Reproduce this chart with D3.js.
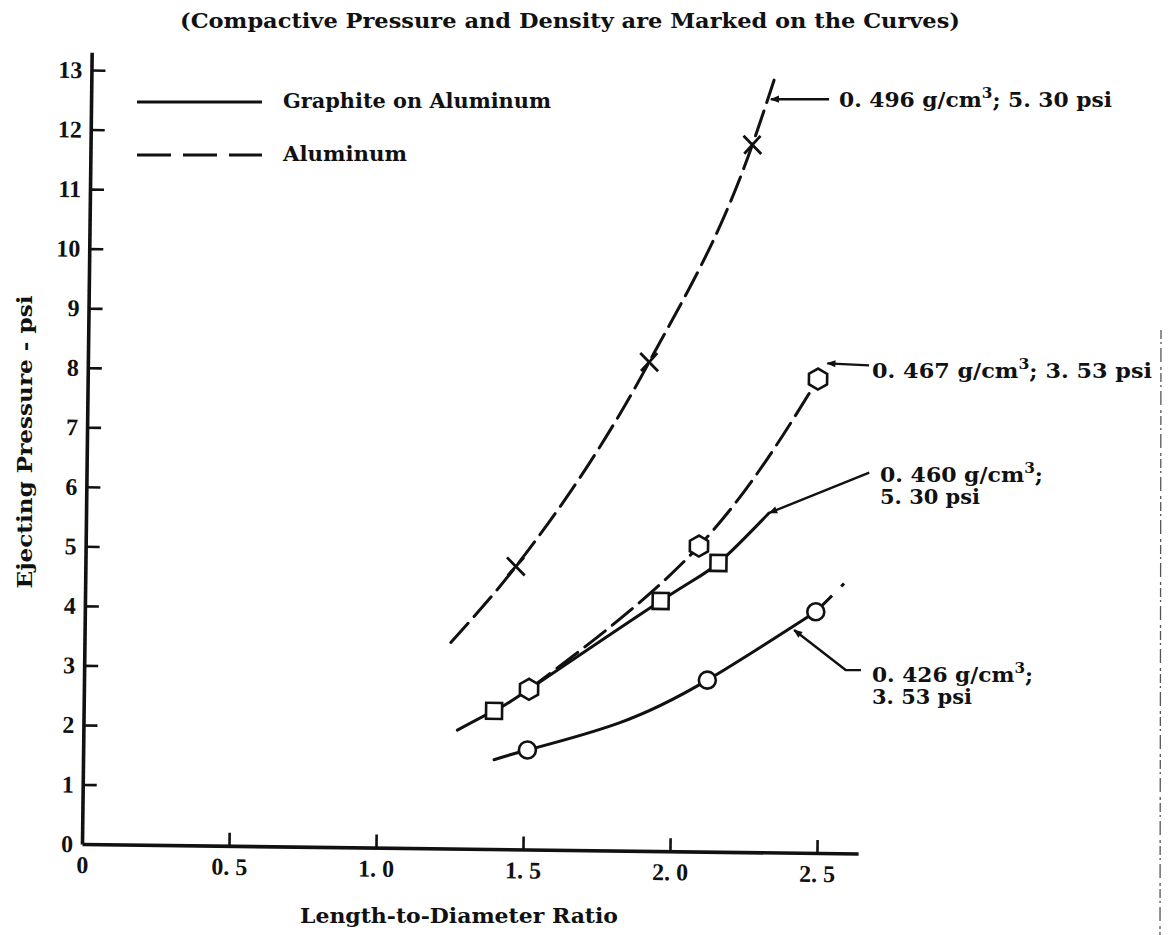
<!DOCTYPE html>
<html>
<head>
<meta charset="utf-8">
<script src="https://cdn.jsdelivr.net/npm/d3@7"></script>
<style>
  body { margin: 0; background: #fff; }
  text { font-family: "DejaVu Serif", serif; font-weight: bold; fill: #111; }
  .tick text { font-family: "Liberation Serif", serif; }
</style>
</head>
<body>
<svg width="1170" height="935"></svg>
<script>
// Ejecting pressure vs length-to-diameter ratio

// ---- data (x = L/D ratio, y = psi) ----
var xTicks = [0, 0.5, 1.0, 1.5, 2.0, 2.5];
var xTickLabels = ["0", "0. 5", "1. 0", "1. 5", "2. 0", "2. 5"];
var yTicks = [0, 1, 2, 3, 4, 5, 6, 7, 8, 9, 10, 11, 12, 13];
var yTickLabels = ["0", "1", "2", "3", "4", "5", "6", "7", "8", "9", "10", "11", "12", "13"];

// aluminum, 0.496 g/cm3; 5.30 psi (dashed, x marks)
var al496Curve = [[1.246, 3.46], [1.464, 4.75], [1.909, 8.21], [2.251, 11.88], [2.322, 12.97]];
var al496Points = [[1.464, 4.75], [1.909, 8.21], [2.251, 11.88]];

// aluminum, 0.467 g/cm3; 3.53 psi (dashed, hexagons)
var al467Curve = [[1.514, 2.69], [2.086, 5.13], [2.484, 7.96]];
var al467Points = [[1.514, 2.69], [2.086, 5.13], [2.484, 7.96]];

// graphite on aluminum, 0.460 g/cm3; 5.30 psi (solid, squares)
var gr460Curve = [[1.272, 1.99], [1.396, 2.32], [1.514, 2.69], [1.958, 4.20], [2.153, 4.85], [2.323, 5.70]];
var gr460Points = [[1.396, 2.32], [1.958, 4.20], [2.153, 4.85]];

// graphite on aluminum, 0.426 g/cm3; 3.53 psi (solid, circles)
var gr426Curve = [[1.398, 1.50], [1.511, 1.67], [1.82, 2.14], [2.12, 2.88], [2.486, 4.05]];
var gr426Points = [[1.511, 1.67], [2.12, 2.88], [2.486, 4.05]];
var gr426Tail = [[2.486, 4.05], [2.587, 4.56]];

// leader lines: from the label to the curve (arrow at the last point)
var leader496 = [[2.510, 12.66], [2.312, 12.65]];
var leader467 = [[2.657, 8.20], [2.515, 8.225]];
var leader460 = [[2.662, 6.40], [2.323, 5.70]];
var leader426 = [[2.642, 3.08], [2.590, 3.08], [2.413, 3.74]];

// ---- drawing area ----
var svg = d3.select("svg");
var ox = 82, oy = 844,        // origin in pixels
    unitX = 294, unitY = 59.54,
    tilt = 0.7;               // the hand-drawn axes lean a little

var x = d3.scaleLinear().domain([0, 2.64]).range([ox, ox + 2.64 * unitX]),
    y = d3.scaleLinear().domain([0, 13.3]).range([oy, oy - 13.3 * unitY]);

var defs = svg.append("defs");
defs.append("marker")
    .attr("id", "arrow")
    .attr("viewBox", "0 0 10 10")
    .attr("refX", 9).attr("refY", 5)
    .attr("markerUnits", "userSpaceOnUse")
    .attr("markerWidth", 13).attr("markerHeight", 9)
    .attr("orient", "auto")
  .append("path")
    .attr("d", "M0,1L10,5L0,9Z")
    .attr("fill", "#111");

var plot = svg.append("g")
    .attr("transform", "rotate(" + tilt + "," + ox + "," + oy + ")");

// x axis
var gx = plot.append("g")
    .attr("transform", "translate(0," + oy + ")")
    .call(d3.axisBottom(x)
      .tickValues(xTicks)
      .tickFormat(function(d, i) { return xTickLabels[i]; })
      .tickSize(-13).tickSizeOuter(0).tickPadding(12));

// y axis
var gy = plot.append("g")
    .attr("transform", "translate(" + ox + ",0)")
    .call(d3.axisLeft(y)
      .tickValues(yTicks)
      .tickFormat(function(d, i) { return yTickLabels[i]; })
      .tickSize(-14).tickSizeOuter(0).tickPadding(9));

[gx, gy].forEach(function(g) {
  g.attr("font-family", null).attr("font-size", null);
  g.select(".domain").attr("stroke", "#111").attr("stroke-width", 3.6);
  g.selectAll(".tick line").attr("stroke", "#111").attr("stroke-width", 2.6);
  g.selectAll(".tick text").attr("fill", "#111").style("font-size", "24px");
});
gx.selectAll(".tick").filter(function(d) { return d === 0; }).select("line").remove();
gy.selectAll(".tick").filter(function(d) { return d === 0; }).select("line").remove();

// curves
function lineWith(curveType) {
  return d3.line()
      .x(function(d) { return x(d[0]); })
      .y(function(d) { return y(d[1]); })
      .curve(curveType);
}
var straight = lineWith(d3.curveLinear);

function curve(data, dashed, curveType) {
  plot.append("path")
      .datum(data)
      .attr("d", lineWith(curveType))
      .attr("fill", "none")
      .attr("stroke", "#111")
      .attr("stroke-width", 3)
      .attr("stroke-linecap", "round")
      .attr("stroke-dasharray", dashed ? "26,9" : null);
}

curve(al496Curve, true, d3.curveMonotoneX);
curve(al467Curve, true, d3.curveNatural);
curve(gr460Curve, false, d3.curveNatural);
curve(gr426Curve, false, d3.curveNatural);

plot.append("path")
    .datum(gr426Tail)
    .attr("d", straight)
    .attr("fill", "none")
    .attr("stroke", "#111")
    .attr("stroke-width", 3)
    .attr("stroke-dasharray", "23,13,4,60");

// leader lines
[leader496, leader467, leader460, leader426].forEach(function(pts) {
  plot.append("path")
      .datum(pts)
      .attr("d", straight)
      .attr("fill", "none")
      .attr("stroke", "#111")
      .attr("stroke-width", 2.4)
      .attr("marker-end", "url(#arrow)");
});

// point symbols
function hexagon(r) {
  var p = [];
  for (var i = 0; i < 6; i++) {
    var a = Math.PI / 3 * i - Math.PI / 2;
    p.push([r * Math.cos(a), r * Math.sin(a)]);
  }
  return "M" + p.join("L") + "Z";
}

function symbols(data, shape) {
  var g = plot.selectAll(null)
      .data(data)
      .enter()
    .append("g")
      .attr("transform", function(d) { return "translate(" + x(d[0]) + "," + y(d[1]) + ")"; });

  if (shape === "x") {
    g.append("path")
        .attr("d", "M-9,-9L9,9M-8,9L8,-9")
        .attr("stroke", "#111")
        .attr("stroke-width", 2.8);
    return;
  }
  var mark;
  if (shape === "hex") mark = g.append("path").attr("d", hexagon(10.5));
  else if (shape === "square") mark = g.append("rect").attr("x", -8).attr("y", -8).attr("width", 16).attr("height", 16);
  else mark = g.append("circle").attr("r", 8.5);
  mark.attr("fill", "#fff")
      .attr("stroke", "#111")
      .attr("stroke-width", 2.6);
}

symbols(al496Points, "x");
symbols(al467Points, "hex");
symbols(gr460Points, "square");
symbols(gr426Points, "circle");

// ---- typed texts (not tilted) ----
svg.append("text")
    .attr("x", 180).attr("y", 28)
    .attr("textLength", 780).attr("lengthAdjust", "spacingAndGlyphs")
    .style("font-size", "20px")
    .text("(Compactive Pressure and Density are Marked on the Curves)");

svg.append("text")
    .attr("transform", "translate(32,442) rotate(-90)")
    .attr("text-anchor", "middle")
    .attr("textLength", 293).attr("lengthAdjust", "spacingAndGlyphs")
    .style("font-size", "20px")
    .text("Ejecting Pressure - psi");

svg.append("text")
    .attr("x", 459).attr("y", 923)
    .attr("text-anchor", "middle")
    .attr("textLength", 318).attr("lengthAdjust", "spacingAndGlyphs")
    .style("font-size", "20px")
    .text("Length-to-Diameter Ratio");

// legend
var legendNames = ["Graphite on Aluminum", "Aluminum"];
var legendRows = [{y: 102, dash: null, w: 268}, {y: 155, dash: "34,12", w: 124}];
legendRows.forEach(function(r, i) {
  svg.append("line")
      .attr("x1", 137).attr("x2", 262)
      .attr("y1", r.y).attr("y2", r.y)
      .attr("stroke", "#111")
      .attr("stroke-width", 2.8)
      .attr("stroke-dasharray", r.dash);
  svg.append("text")
      .attr("x", 283).attr("y", r.y + 6)
      .attr("textLength", r.w).attr("lengthAdjust", "spacingAndGlyphs")
      .style("font-size", "20px")
      .text(legendNames[i]);
});

// curve labels: [before superscript, superscript, after]
var labelParts = [
  ["0. 496 g/cm", "3", "; 5. 30 psi"],
  ["0. 467 g/cm", "3", "; 3. 53 psi"],
  ["0. 460 g/cm", "3", ";"],
  ["0. 426 g/cm", "3", ";"]
];
var labelSecond = [null, null, "5. 30 psi", "3. 53 psi"];
var labelPlace = [
  {x: 839, y: 107, w: 273},
  {x: 872, y: 378, w: 280},
  {x: 880, y: 482, w: 163},
  {x: 872, y: 682, w: 161}
];

labelParts.forEach(function(p, i) {
  var pos = labelPlace[i];
  var t = svg.append("text")
      .attr("x", pos.x).attr("y", pos.y)
      .attr("textLength", pos.w).attr("lengthAdjust", "spacingAndGlyphs")
      .style("font-size", "20px");
  t.append("tspan").text(p[0]);
  t.append("tspan").attr("dy", -9).style("font-size", "14px").text(p[1]);
  t.append("tspan").attr("dy", 9).text(p[2]);
  if (labelSecond[i]) {
    svg.append("text")
        .attr("x", pos.x).attr("y", pos.y + 22)
        .attr("textLength", 100).attr("lengthAdjust", "spacingAndGlyphs")
        .style("font-size", "20px")
        .text(labelSecond[i]);
  }
});

// page edge left by the scan
svg.append("line")
    .attr("x1", 1161).attr("x2", 1160)
    .attr("y1", 330).attr("y2", 935)
    .attr("stroke", "#555")
    .attr("stroke-width", 1.3)
    .attr("stroke-dasharray", "9,3,2,4,14,5,3,3");
</script>
</body>
</html>
